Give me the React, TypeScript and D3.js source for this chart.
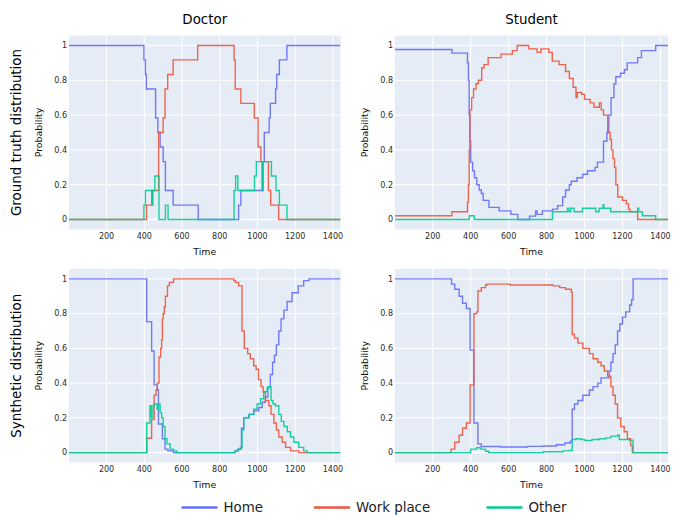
import { useEffect, useRef } from 'react';
import * as d3 from 'd3';

type Pt = [number, number];

// time (minutes) -> probability, step breakpoints
const doctorGtHome: Pt[] = [[1,1],[398,0.917],[406,0.833],[411,0.75],[460,0.583],[472,0.5],[484,0.417],[500,0.333],[512,0.167],[553,0.083],[686,0],[900,0.083],[912,0.167],[1028,0.333],[1036,0.5],[1062,0.583],[1068,0.667],[1096,0.75],[1102,0.833],[1116,0.917],[1156,1],[1440,1]];
const doctorGtWork: Pt[] = [[1,0],[412,0.083],[440,0.167],[476,0.5],[500,0.583],[510,0.75],[524,0.833],[553,0.917],[683,1],[876,0.917],[882,0.75],[912,0.667],[983,0.583],[1003,0.417],[1018,0.333],[1058,0.167],[1070,0.083],[1112,0],[1440,0]];
const doctorGtOther: Pt[] = [[1,0],[398,0.083],[406,0.167],[440,0.083],[446,0.167],[456,0.25],[478,0],[512,0.083],[526,0],[876,0.167],[884,0.25],[896,0.167],[984,0.25],[994,0.333],[1024,0.167],[1030,0.333],[1074,0.25],[1098,0.167],[1116,0.083],[1156,0],[1440,0]];

const studentGtHome: Pt[] = [[1,0.977],[301,0.956],[383,0.9],[388,0.8],[392,0.6],[396,0.45],[400,0.33],[410,0.28],[420,0.24],[432,0.2],[445,0.17],[456,0.15],[466,0.11],[496,0.07],[550,0.05],[612,0.03],[648,0],[710,0.02],[742,0.05],[750,0.03],[778,0.05],[832,0.06],[858,0.08],[885,0.13],[900,0.17],[920,0.2],[930,0.22],[960,0.24],[990,0.26],[1016,0.28],[1055,0.3],[1068,0.33],[1100,0.45],[1118,0.5],[1128,0.6],[1140,0.7],[1155,0.78],[1165,0.82],[1190,0.84],[1210,0.86],[1225,0.9],[1280,0.93],[1300,0.97],[1375,1],[1440,1]];
const studentGtWork: Pt[] = [[1,0.022],[301,0.045],[383,0.1],[388,0.2],[392,0.4],[396,0.63],[405,0.7],[415,0.75],[428,0.78],[440,0.8],[458,0.87],[470,0.89],[492,0.93],[560,0.95],[620,0.97],[645,1],[705,0.98],[750,0.96],[770,0.98],[812,0.96],[830,0.91],[866,0.89],[900,0.85],[920,0.81],[940,0.76],[955,0.7],[962,0.73],[985,0.72],[1000,0.69],[1030,0.67],[1050,0.645],[1078,0.67],[1088,0.63],[1100,0.6],[1122,0.5],[1135,0.46],[1142,0.4],[1150,0.35],[1158,0.3],[1165,0.2],[1175,0.13],[1200,0.11],[1220,0.09],[1232,0.06],[1240,0.045],[1280,0],[1440,0]];
const studentGtOther: Pt[] = [[1,0],[393,0.022],[419,0],[831,0.045],[910,0.065],[918,0.045],[927,0.065],[945,0.045],[989,0.065],[1059,0.045],[1077,0.065],[1098,0.085],[1102,0.065],[1138,0.045],[1280,0.065],[1286,0.045],[1305,0.022],[1375,0],[1440,0]];

const doctorSynHome: Pt[] = [[1,1],[413,0.754],[439,0.585],[452,0.39],[469,0.36],[475,0.165],[496,0.08],[510,0.02],[525,0.01],[555,0],[880,0.01],[900,0.02],[915,0.14],[927,0.2],[955,0.22],[980,0.24],[1007,0.26],[1025,0.29],[1042,0.32],[1055,0.38],[1068,0.45],[1080,0.52],[1090,0.56],[1100,0.62],[1113,0.7],[1125,0.77],[1140,0.82],[1157,0.87],[1183,0.92],[1216,0.96],[1245,0.99],[1273,1],[1440,1]];
const doctorSynWork: Pt[] = [[1,0],[413,0.083],[439,0.19],[452,0.33],[462,0.36],[469,0.4],[478,0.55],[487,0.6],[492,0.65],[496,0.77],[500,0.8],[506,0.84],[512,0.9],[523,0.96],[533,0.98],[555,1],[874,0.99],[883,0.98],[900,0.96],[918,0.7],[930,0.6],[948,0.57],[962,0.54],[980,0.5],[993,0.48],[1005,0.42],[1019,0.38],[1030,0.35],[1042,0.3],[1060,0.27],[1072,0.22],[1087,0.17],[1100,0.13],[1113,0.09],[1131,0.06],[1149,0.03],[1175,0.01],[1219,0],[1440,0]];
const doctorSynOther: Pt[] = [[1,0],[413,0.17],[430,0.27],[437,0.2],[446,0.27],[454,0.28],[468,0.25],[475,0.28],[484,0.23],[492,0.2],[500,0.15],[510,0.08],[520,0.05],[537,0.02],[555,0.01],[572,0],[883,0.01],[895,0.02],[909,0.03],[918,0.13],[927,0.2],[955,0.22],[980,0.25],[998,0.28],[1016,0.31],[1033,0.35],[1051,0.37],[1060,0.38],[1072,0.3],[1082,0.28],[1095,0.27],[1113,0.22],[1126,0.18],[1140,0.15],[1158,0.12],[1175,0.09],[1193,0.06],[1219,0.03],[1245,0.01],[1264,0],[1440,0]];

const studentSynHome: Pt[] = [[1,1],[299,0.97],[316,0.94],[339,0.9],[357,0.86],[377,0.83],[397,0.59],[417,0.17],[438,0.05],[456,0.035],[556,0.032],[700,0.036],[783,0.038],[852,0.045],[896,0.055],[925,0.065],[935,0.25],[947,0.28],[965,0.3],[991,0.33],[1026,0.36],[1045,0.38],[1070,0.4],[1087,0.43],[1130,0.47],[1139,0.52],[1150,0.57],[1162,0.62],[1174,0.7],[1186,0.74],[1200,0.78],[1217,0.81],[1238,0.85],[1248,0.88],[1256,1],[1440,1]];
const studentSynWork: Pt[] = [[1,0],[296,0.02],[316,0.06],[339,0.1],[357,0.14],[377,0.17],[397,0.39],[417,0.8],[431,0.81],[438,0.93],[456,0.95],[478,0.965],[487,0.97],[609,0.965],[835,0.96],[869,0.95],[900,0.94],[930,0.925],[935,0.68],[947,0.66],[965,0.63],[991,0.6],[1026,0.57],[1045,0.54],[1070,0.52],[1087,0.5],[1104,0.47],[1122,0.44],[1139,0.38],[1150,0.33],[1162,0.28],[1174,0.2],[1191,0.15],[1209,0.12],[1226,0.08],[1243,0.04],[1252,0],[1440,0]];
const studentSynOther: Pt[] = [[1,0],[400,0.02],[431,0.028],[452,0.02],[478,0.008],[495,0],[783,0.005],[887,0.01],[920,0.012],[935,0.075],[956,0.08],[980,0.075],[1000,0.07],[1040,0.075],[1078,0.08],[1113,0.085],[1139,0.095],[1174,0.1],[1183,0.075],[1235,0.072],[1256,0],[1440,0]];

const seriesNames = ['Home', 'Work place', 'Other'];
const seriesColors = ['#636efa', '#ef553b', '#00cc96'];
const colTitles = ['Doctor', 'Student'];
const rowTitles = ['Ground truth distribution', 'Synthetic distribution'];
const xTicks = [200, 400, 600, 800, 1000, 1200, 1400];
const yTicks = [0, 0.2, 0.4, 0.6, 0.8, 1];

const panelData: Pt[][][][] = [
  [[doctorGtHome, doctorGtWork, doctorGtOther], [studentGtHome, studentGtWork, studentGtOther]],
  [[doctorSynHome, doctorSynWork, doctorSynOther], [studentSynHome, studentSynWork, studentSynOther]],
];

const W = 691;
const H = 515;
const FONT = '"DejaVu Sans", Verdana, sans-serif';
const colX: [number, number][] = [[69, 340.5], [395, 668]];
const rowY: [number, number][] = [[35.5, 229.5], [269, 462.5]];

export default function App() {
  const svgRef = useRef<SVGSVGElement>(null);

  useEffect(() => {
    if (!svgRef.current) return;
    const svg = d3.select(svgRef.current);
    svg.selectAll('*').remove();

    svg.append('rect').attr('width', W).attr('height', H).attr('fill', '#fff');

    const defs = svg.append('defs');

    panelData.forEach((row, r) => {
      row.forEach((series, c) => {
        const [x0, x1] = colX[c];
        const [y0, y1] = rowY[r];
        const x = d3.scaleLinear().domain([1, 1440]).range([x0, x1]);
        const y = d3.scaleLinear().domain([-0.057, 1.057]).range([y1, y0]);
        const g = svg.append('g');

        g.append('rect')
          .attr('x', x0).attr('y', y0)
          .attr('width', x1 - x0).attr('height', y1 - y0)
          .attr('fill', '#e5ecf6');

        // grid
        xTicks.forEach(t => {
          g.append('line')
            .attr('x1', x(t)).attr('x2', x(t))
            .attr('y1', y0).attr('y2', y1)
            .attr('stroke', '#fff').attr('stroke-width', 1);
        });
        yTicks.forEach(t => {
          g.append('line')
            .attr('x1', x0).attr('x2', x1)
            .attr('y1', y(t)).attr('y2', y(t))
            .attr('stroke', '#fff').attr('stroke-width', t === 0 ? 1.5 : 1);
        });

        const clipId = `clip-${r}-${c}`;
        defs.append('clipPath').attr('id', clipId)
          .append('rect')
          .attr('x', x0).attr('y', y0)
          .attr('width', x1 - x0).attr('height', y1 - y0);

        const line = d3.line<Pt>()
          .x(d => x(d[0]))
          .y(d => y(d[1]))
          .curve(d3.curveStepAfter);

        series.forEach((s, i) => {
          g.append('path')
            .attr('clip-path', `url(#${clipId})`)
            .attr('d', line(s) ?? '')
            .attr('fill', 'none')
            .attr('stroke', seriesColors[i])
            .attr('stroke-width', 1.4)
            .attr('stroke-opacity', 0.9);
        });

        // tick labels
        xTicks.forEach(t => {
          g.append('text')
            .attr('x', x(t)).attr('y', y1 + 9)
            .attr('text-anchor', 'middle')
            .attr('font-family', FONT).attr('font-size', 8)
            .attr('fill', '#2a2a2a')
            .text(String(t));
        });
        yTicks.forEach(t => {
          g.append('text')
            .attr('x', x0 - 2).attr('y', y(t))
            .attr('dy', '0.35em')
            .attr('text-anchor', 'end')
            .attr('font-family', FONT).attr('font-size', 8)
            .attr('fill', '#2a2a2a')
            .text(String(t));
        });

        // axis titles
        g.append('text')
          .attr('x', (x0 + x1) / 2).attr('y', y1 + 25)
          .attr('text-anchor', 'middle')
          .attr('font-family', FONT).attr('font-size', 9.4)
          .attr('fill', '#111')
          .text('Time');
        const py = (y0 + y1) / 2;
        g.append('text')
          .attr('transform', `translate(${x0 - 27}, ${py}) rotate(-90)`)
          .attr('text-anchor', 'middle')
          .attr('font-family', FONT).attr('font-size', 9.4)
          .attr('fill', '#111')
          .text('Probability');

        if (r === 0) {
          g.append('text')
            .attr('x', (x0 + x1) / 2).attr('y', 24)
            .attr('text-anchor', 'middle')
            .attr('font-family', FONT).attr('font-size', 13.4)
            .attr('fill', '#000')
            .text(colTitles[c]);
        }
        if (c === 0) {
          g.append('text')
            .attr('transform', `translate(21, ${py}) rotate(-90)`)
            .attr('text-anchor', 'middle')
            .attr('font-family', FONT).attr('font-size', 13.4)
            .attr('fill', '#000')
            .text(rowTitles[r]);
        }
      });
    });

    // legend
    const legendX = [181.5, 314, 486.5];
    const ly = 507.5;
    seriesNames.forEach((name, i) => {
      svg.append('line')
        .attr('x1', legendX[i]).attr('x2', legendX[i] + 36)
        .attr('y1', ly).attr('y2', ly)
        .attr('stroke', seriesColors[i]).attr('stroke-width', 2.7);
      svg.append('text')
        .attr('x', legendX[i] + 42).attr('y', ly + 4.5)
        .attr('font-family', FONT).attr('font-size', 13.4)
        .attr('fill', '#222')
        .text(name);
    });
  }, []);

  return (
    <svg
      ref={svgRef}
      width={W}
      height={H}
      viewBox={`0 0 ${W} ${H}`}
      style={{ position: 'absolute', left: 0, top: 0 }}
    />
  );
}
